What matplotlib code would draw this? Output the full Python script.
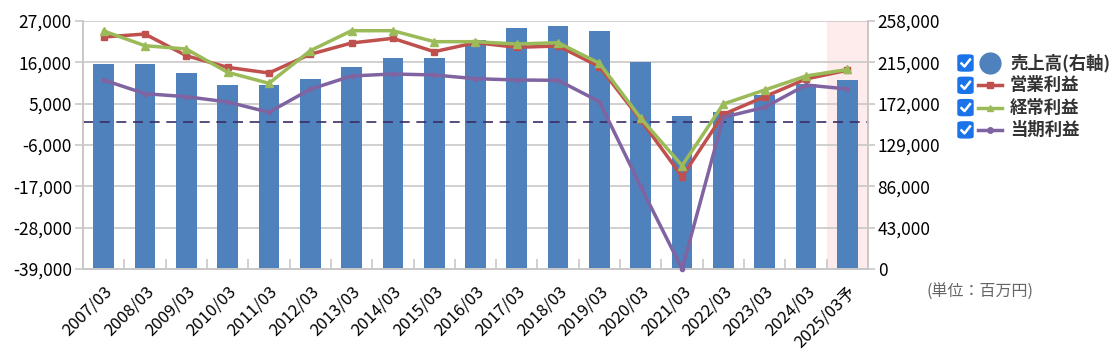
import numpy as np
import matplotlib.pyplot as plt
from matplotlib.lines import Line2D
from matplotlib.patches import FancyBboxPatch

plt.rcParams['font.family'] = ['Noto Sans CJK JP', 'DejaVu Sans']

# data (百万円)
years = ['2007/03', '2008/03', '2009/03', '2010/03', '2011/03', '2012/03', '2013/03',
         '2014/03', '2015/03', '2016/03', '2017/03', '2018/03', '2019/03', '2020/03',
         '2021/03', '2022/03', '2023/03', '2024/03', '2025/03予']
sales = [213000, 213000, 204000, 191500, 191500, 197700, 210500,
         219500, 219500, 238200, 250700, 252500, 247600, 215500,
         158800, 163000, 181000, 192100, 196300]
op_profit = [22740, 23540, 17770, 14680, 13160, 18140, 21150,
             22390, 18840, 21230, 20000, 20350, 14840, 660,
             -14420, 2170, 6860, 11570, 13900]
ord_profit = [24340, 20430, 19550, 13350, 10420, 19100, 24420,
              24420, 21500, 21500, 20880, 21230, 15740, 1110,
              -11490, 4920, 8640, 12370, 14100]
net_profit = [11300, 7660, 6860, 5450, 2710, 8830, 12370,
              12900, 12640, 11650, 11300, 11220, 5530, -17080,
              -39000, 1380, 4040, 9970, 8910]

left_ticks = [-39000, -28000, -17000, -6000, 5000, 16000, 27000]
right_ticks = [0, 43000, 86000, 129000, 172000, 215000, 258000]

c_bar = '#4f81bd'
c_op = '#c0504d'
c_ord = '#9bbb59'
c_net = '#8064a2'
grid_c = '#c8c8c8'

fig = plt.figure(figsize=(11.2, 3.55), dpi=100)
ax = fig.add_axes([0.0741, 0.2423, 0.7009, 0.6985])
ax2 = ax.twinx()

x = np.arange(len(years))

# bars on right axis
ax2.axvspan(len(years) - 1.5, len(years) - 0.5, color='#fdeceb', zorder=0.2, lw=0)
ax2.bar(x, sales, width=0.5, color=c_bar, zorder=2)
ax2.set_ylim(0, 258000)
ax2.set_yticks(right_ticks)
ax2.set_yticklabels([f'{v:,}' for v in right_ticks])
ax2.set_axisbelow(True)
ax2.yaxis.grid(True, color=grid_c, lw=1.2)

# lines on left axis, above bars
ax.set_zorder(ax2.get_zorder() + 1)
ax.patch.set_visible(False)
ax.axhline(0, color='#3b2d66', lw=1.2, ls=(0, (6, 4)), zorder=1)
ax.plot(x, op_profit, color=c_op, lw=2.5, marker='s', ms=4.5, zorder=3)
ax.plot(x, ord_profit, color=c_ord, lw=2.5, marker='^', ms=5.5, zorder=4)
ax.plot(x, net_profit, color=c_net, lw=2.5, marker='o', ms=3, zorder=3, clip_on=False)
ax.set_ylim(-39000, 27000)
ax.set_yticks(left_ticks)
ax.set_yticklabels([f'{v:,}' for v in left_ticks])
ax.set_xlim(-0.5, len(years) - 0.5)
ax.set_xticks(x)
ax.set_xticklabels(years, rotation=45, ha='right', rotation_mode='anchor', fontsize=12)
ax.set_xticks(np.arange(0.5, len(years) - 1, 1), minor=True)
ax.tick_params(axis='x', which='major', length=0, pad=10)
ax.tick_params(axis='x', which='minor', direction='in', length=7, color=grid_c, width=1.2)
ax.tick_params(axis='y', length=6, color=grid_c, width=1.2, labelsize=12.5, pad=2)
ax2.tick_params(axis='y', length=5, color=grid_c, width=1.2, labelsize=12.5, pad=2)

for a in (ax, ax2):
    for s in a.spines.values():
        s.set_color(grid_c)
        s.set_linewidth(1.2)
    a.spines['top'].set_visible(False)

# legend with checkboxes (figure pixel coords)
W, H = 1120, 355
labels = ['売上高(右軸)', '営業利益', '経常利益', '当期利益']
styles = [(c_bar, None, 'o'), (c_op, '-', 's'), (c_ord, '-', '^'), (c_net, '-', 'o')]
for i, (lab, (c, ls, mk)) in enumerate(zip(labels, styles)):
    yc = 63 + i * 22.3
    fig.patches.append(FancyBboxPatch(((958) / W, 1 - (yc + 8) / H), 15 / W, 16 / H,
                                      boxstyle='round,pad=0,rounding_size=0.004',
                                      transform=fig.transFigure, color='#1a73e8', zorder=5))
    fig.lines.append(Line2D([961.5 / W, 964.5 / W, 970 / W],
                            [1 - (yc + 0.5) / H, 1 - (yc + 3.5) / H, 1 - (yc - 3.5) / H],
                            transform=fig.transFigure, color='white', lw=1.8, zorder=6))
    if ls is None:
        fig.lines.append(Line2D([990 / W], [1 - yc / H], transform=fig.transFigure,
                                marker='o', ms=15, color=c, lw=0))
    else:
        fig.lines.append(Line2D([978 / W, 1002 / W], [1 - yc / H, 1 - yc / H],
                                transform=fig.transFigure, color=c, lw=2.5))
        fig.lines.append(Line2D([990 / W], [1 - yc / H], transform=fig.transFigure,
                                marker=mk, ms=4, color=c, lw=0))
    fig.text(1010 / W, 1 - yc / H, lab, fontsize=12.5, fontweight='bold', color='#333333',
             va='center', ha='left')

fig.text(980 / W, 1 - 292 / H, '(単位：百万円)', fontsize=11.5, color='#666666',
         ha='center', va='center')

fig.savefig('out.png', dpi=100)
